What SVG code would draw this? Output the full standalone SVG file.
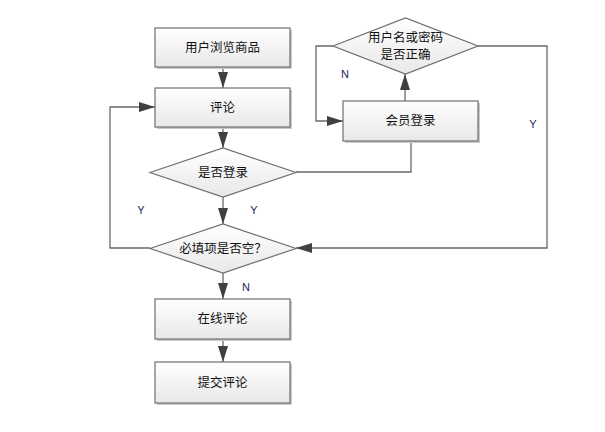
<svg xmlns="http://www.w3.org/2000/svg" width="605" height="432" viewBox="0 0 605 432">
<defs>
<linearGradient id="g" x1="0" y1="0" x2="0" y2="1">
<stop offset="0" stop-color="#ffffff"/>
<stop offset="1" stop-color="#e8e8e8"/>
</linearGradient>
<marker id="ahb" viewBox="0 0 16 10" refX="16" refY="5" markerWidth="16" markerHeight="10" markerUnits="userSpaceOnUse" orient="auto">
<path d="M0,0 L16,5 L0,10 Z" fill="#404040"/>
</marker>
</defs>
<style>
.box{fill:url(#g);stroke:#6e6e6e;stroke-width:1.2}
.sh{fill:#c9c9c9}
.t{font-family:"Liberation Sans","Noto Sans CJK SC",sans-serif;font-size:12.5px;fill:#111;text-anchor:middle;dominant-baseline:central}
.l{font-family:"Liberation Sans",sans-serif;font-size:11px;fill:#1a2a5a;text-anchor:middle;dominant-baseline:central}
.c{fill:none;stroke:#6a6a6a;stroke-width:1.3}
</style>
<rect width="605" height="432" fill="#ffffff"/>
<g id="connectors">
<path class="c" d="M223,67 V88" marker-end="url(#ahb)"/>
<path class="c" d="M223,127 V148" marker-end="url(#ahb)"/>
<path class="c" d="M223,197 V224" marker-end="url(#ahb)"/>
<path class="c" d="M223,273 V299" marker-end="url(#ahb)"/>
<path class="c" d="M223,339 V362" marker-end="url(#ahb)"/>
<path class="c" d="M150,248 H110 V107 H155" marker-end="url(#ahb)"/>
<path class="c" d="M296,172 H411 V141"/>
<path class="c" d="M405,101 V74" marker-end="url(#ahb)"/>
<path class="c" d="M333,46 H316 V121 H343" marker-end="url(#ahb)"/>
<path class="c" d="M478,46 H547 V248 H296" marker-end="url(#ahb)"/>
</g>
<g id="n1">
<rect class="sh" x="157" y="30" width="135" height="39"/>
<rect class="box" x="155" y="28" width="135" height="39"/>
<text class="t" x="222.5" y="48">用户浏览商品</text>
</g>
<g id="n2">
<rect class="sh" x="157" y="90" width="135" height="39"/>
<rect class="box" x="155" y="88" width="135" height="39"/>
<text class="t" x="222.5" y="108">评论</text>
</g>
<g id="n3">
<polygon class="box" points="150,172.5 223,148 296,172.5 223,197"/>
<text class="t" x="223" y="173">是否登录</text>
</g>
<g id="n4">
<polygon class="box" points="150,248.5 223,224 296,248.5 223,273"/>
<text class="t" x="223" y="249">必填项是否空？</text>
</g>
<g id="n5">
<rect class="sh" x="157" y="301" width="135" height="40"/>
<rect class="box" x="155" y="299" width="135" height="40"/>
<text class="t" x="222.5" y="319">在线评论</text>
</g>
<g id="n6">
<rect class="sh" x="157" y="364" width="135" height="41"/>
<rect class="box" x="155" y="362" width="135" height="41"/>
<text class="t" x="222.5" y="382.5">提交评论</text>
</g>
<g id="n7">
<polygon class="box" points="333,46 405.5,18 478,46 405.5,74"/>
<text class="t" x="405.5" y="38">用户名或密码</text>
<text class="t" x="405.5" y="55">是否正确</text>
</g>
<g id="n8">
<rect class="sh" x="345" y="103" width="135" height="40"/>
<rect class="box" x="343" y="101" width="135" height="40"/>
<text class="t" x="410.5" y="121">会员登录</text>
</g>
<g id="labels">
<text class="l" x="141" y="210">Y</text>
<text class="l" x="254" y="210">Y</text>
<text class="l" x="246" y="287">N</text>
<text class="l" x="345" y="74">N</text>
<text class="l" x="533" y="124">Y</text>
</g>
</svg>
